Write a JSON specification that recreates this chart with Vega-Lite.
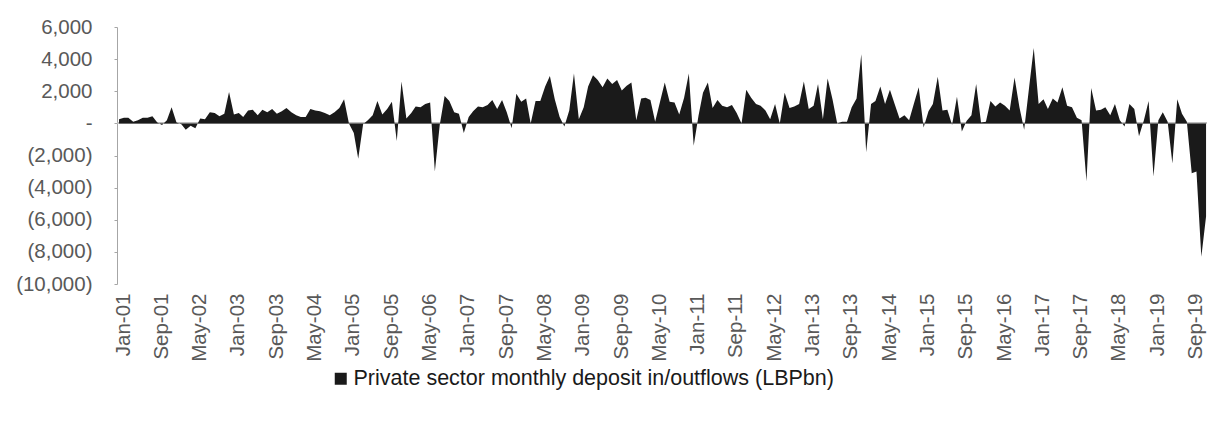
{
  "$schema": "https://vega.github.io/schema/vega-lite/v6.json",
  "width": 1090,
  "height": 257,
  "autosize": "none",
  "padding": {"left": 117, "top": 27, "right": 0, "bottom": 141},
  "background": "white",
  "config": {"view": {"stroke": null}, "font": "Liberation Sans", "axis": {"labelOverlap": false}, "axisY": {"labelOverlap": false}},
  "data": {"values": [
    {"m":"2001-01-01","v":250},{"m":"2001-02-01","v":350},{"m":"2001-03-01","v":350},{"m":"2001-04-01","v":100},{"m":"2001-05-01","v":200},{"m":"2001-06-01","v":350},{"m":"2001-07-01","v":350},{"m":"2001-08-01","v":450},{"m":"2001-09-01","v":50},{"m":"2001-10-01","v":-100},{"m":"2001-11-01","v":200},{"m":"2001-12-01","v":1000},
    {"m":"2002-01-01","v":50},{"m":"2002-02-01","v":-50},{"m":"2002-03-01","v":-400},{"m":"2002-04-01","v":-150},{"m":"2002-05-01","v":-300},{"m":"2002-06-01","v":300},{"m":"2002-07-01","v":250},{"m":"2002-08-01","v":700},{"m":"2002-09-01","v":650},{"m":"2002-10-01","v":450},{"m":"2002-11-01","v":600},{"m":"2002-12-01","v":1950},
    {"m":"2003-01-01","v":550},{"m":"2003-02-01","v":650},{"m":"2003-03-01","v":400},{"m":"2003-04-01","v":800},{"m":"2003-05-01","v":850},{"m":"2003-06-01","v":500},{"m":"2003-07-01","v":850},{"m":"2003-08-01","v":700},{"m":"2003-09-01","v":900},{"m":"2003-10-01","v":600},{"m":"2003-11-01","v":750},{"m":"2003-12-01","v":950},
    {"m":"2004-01-01","v":700},{"m":"2004-02-01","v":500},{"m":"2004-03-01","v":400},{"m":"2004-04-01","v":400},{"m":"2004-05-01","v":900},{"m":"2004-06-01","v":800},{"m":"2004-07-01","v":750},{"m":"2004-08-01","v":650},{"m":"2004-09-01","v":500},{"m":"2004-10-01","v":700},{"m":"2004-11-01","v":950},{"m":"2004-12-01","v":1500},
    {"m":"2005-01-01","v":0},{"m":"2005-02-01","v":-600},{"m":"2005-03-01","v":-2200},{"m":"2005-04-01","v":-50},{"m":"2005-05-01","v":200},{"m":"2005-06-01","v":500},{"m":"2005-07-01","v":1400},{"m":"2005-08-01","v":550},{"m":"2005-09-01","v":900},{"m":"2005-10-01","v":1350},{"m":"2005-11-01","v":-1100},{"m":"2005-12-01","v":2600},
    {"m":"2006-01-01","v":300},{"m":"2006-02-01","v":650},{"m":"2006-03-01","v":1050},{"m":"2006-04-01","v":1000},{"m":"2006-05-01","v":1200},{"m":"2006-06-01","v":1300},{"m":"2006-07-01","v":-3000},{"m":"2006-08-01","v":-100},{"m":"2006-09-01","v":1700},{"m":"2006-10-01","v":1400},{"m":"2006-11-01","v":700},{"m":"2006-12-01","v":600},
    {"m":"2007-01-01","v":-600},{"m":"2007-02-01","v":400},{"m":"2007-03-01","v":750},{"m":"2007-04-01","v":1050},{"m":"2007-05-01","v":1000},{"m":"2007-06-01","v":1150},{"m":"2007-07-01","v":1450},{"m":"2007-08-01","v":900},{"m":"2007-09-01","v":1450},{"m":"2007-10-01","v":700},{"m":"2007-11-01","v":-300},{"m":"2007-12-01","v":1850},
    {"m":"2008-01-01","v":1350},{"m":"2008-02-01","v":1550},{"m":"2008-03-01","v":0},{"m":"2008-04-01","v":1400},{"m":"2008-05-01","v":1400},{"m":"2008-06-01","v":2300},{"m":"2008-07-01","v":2950},{"m":"2008-08-01","v":1500},{"m":"2008-09-01","v":400},{"m":"2008-10-01","v":-200},{"m":"2008-11-01","v":800},{"m":"2008-12-01","v":3100},
    {"m":"2009-01-01","v":250},{"m":"2009-02-01","v":1000},{"m":"2009-03-01","v":2300},{"m":"2009-04-01","v":3000},{"m":"2009-05-01","v":2700},{"m":"2009-06-01","v":2250},{"m":"2009-07-01","v":2800},{"m":"2009-08-01","v":2450},{"m":"2009-09-01","v":2700},{"m":"2009-10-01","v":2050},{"m":"2009-11-01","v":2350},{"m":"2009-12-01","v":2550},
    {"m":"2010-01-01","v":200},{"m":"2010-02-01","v":1550},{"m":"2010-03-01","v":1600},{"m":"2010-04-01","v":1450},{"m":"2010-05-01","v":100},{"m":"2010-06-01","v":1350},{"m":"2010-07-01","v":2550},{"m":"2010-08-01","v":1350},{"m":"2010-09-01","v":1300},{"m":"2010-10-01","v":550},{"m":"2010-11-01","v":1600},{"m":"2010-12-01","v":3100},
    {"m":"2011-01-01","v":-1400},{"m":"2011-02-01","v":500},{"m":"2011-03-01","v":1900},{"m":"2011-04-01","v":2550},{"m":"2011-05-01","v":950},{"m":"2011-06-01","v":1450},{"m":"2011-07-01","v":1100},{"m":"2011-08-01","v":1000},{"m":"2011-09-01","v":1150},{"m":"2011-10-01","v":650},{"m":"2011-11-01","v":0},{"m":"2011-12-01","v":2100},
    {"m":"2012-01-01","v":1600},{"m":"2012-02-01","v":1200},{"m":"2012-03-01","v":1100},{"m":"2012-04-01","v":800},{"m":"2012-05-01","v":250},{"m":"2012-06-01","v":1200},{"m":"2012-07-01","v":0},{"m":"2012-08-01","v":1900},{"m":"2012-09-01","v":950},{"m":"2012-10-01","v":1050},{"m":"2012-11-01","v":1200},{"m":"2012-12-01","v":2600},
    {"m":"2013-01-01","v":900},{"m":"2013-02-01","v":1100},{"m":"2013-03-01","v":2450},{"m":"2013-04-01","v":250},{"m":"2013-05-01","v":2800},{"m":"2013-06-01","v":1500},{"m":"2013-07-01","v":0},{"m":"2013-08-01","v":100},{"m":"2013-09-01","v":100},{"m":"2013-10-01","v":1000},{"m":"2013-11-01","v":1550},{"m":"2013-12-01","v":4300},
    {"m":"2014-01-01","v":-1800},{"m":"2014-02-01","v":1200},{"m":"2014-03-01","v":1400},{"m":"2014-04-01","v":2300},{"m":"2014-05-01","v":1200},{"m":"2014-06-01","v":2100},{"m":"2014-07-01","v":1200},{"m":"2014-08-01","v":300},{"m":"2014-09-01","v":500},{"m":"2014-10-01","v":200},{"m":"2014-11-01","v":1250},{"m":"2014-12-01","v":2250},
    {"m":"2015-01-01","v":-250},{"m":"2015-02-01","v":750},{"m":"2015-03-01","v":1200},{"m":"2015-04-01","v":2900},{"m":"2015-05-01","v":800},{"m":"2015-06-01","v":850},{"m":"2015-07-01","v":-100},{"m":"2015-08-01","v":1650},{"m":"2015-09-01","v":-500},{"m":"2015-10-01","v":150},{"m":"2015-11-01","v":500},{"m":"2015-12-01","v":2450},
    {"m":"2016-01-01","v":50},{"m":"2016-02-01","v":100},{"m":"2016-03-01","v":1400},{"m":"2016-04-01","v":1050},{"m":"2016-05-01","v":1300},{"m":"2016-06-01","v":1100},{"m":"2016-07-01","v":800},{"m":"2016-08-01","v":2850},{"m":"2016-09-01","v":1000},{"m":"2016-10-01","v":-400},{"m":"2016-11-01","v":2200},{"m":"2016-12-01","v":4700},
    {"m":"2017-01-01","v":1200},{"m":"2017-02-01","v":1500},{"m":"2017-03-01","v":900},{"m":"2017-04-01","v":1550},{"m":"2017-05-01","v":1300},{"m":"2017-06-01","v":2250},{"m":"2017-07-01","v":1100},{"m":"2017-08-01","v":1000},{"m":"2017-09-01","v":350},{"m":"2017-10-01","v":200},{"m":"2017-11-01","v":-3600},{"m":"2017-12-01","v":2200},
    {"m":"2018-01-01","v":800},{"m":"2018-02-01","v":850},{"m":"2018-03-01","v":1000},{"m":"2018-04-01","v":500},{"m":"2018-05-01","v":1200},{"m":"2018-06-01","v":200},{"m":"2018-07-01","v":-200},{"m":"2018-08-01","v":1200},{"m":"2018-09-01","v":900},{"m":"2018-10-01","v":-800},{"m":"2018-11-01","v":200},{"m":"2018-12-01","v":1400},
    {"m":"2019-01-01","v":-3300},{"m":"2019-02-01","v":200},{"m":"2019-03-01","v":700},{"m":"2019-04-01","v":100},{"m":"2019-05-01","v":-2500},{"m":"2019-06-01","v":1500},{"m":"2019-07-01","v":600},{"m":"2019-08-01","v":100},{"m":"2019-09-01","v":-3100},{"m":"2019-10-01","v":-3000},{"m":"2019-11-01","v":-8300},{"m":"2019-12-01","v":-5800}
  ]},
  "layer": [
    {
      "mark": {"type": "rule", "color": "#bfbfbf", "strokeWidth": 1},
      "encoding": {
        "y": {
          "datum": 0, "type": "quantitative",
          "scale": {"domain": [-10000, 6000], "nice": false},
          "axis": {
            "title": null, "grid": false,
            "values": [-10000, -8000, -6000, -4000, -2000, 0, 2000, 4000, 6000],
            "labelExpr": "datum.value > 0 ? format(datum.value, ',') : (datum.value < 0 ? '(' + format(-datum.value, ',') + ')' : '-')",
            "domainColor": "#a6a6a6", "tickColor": "#a6a6a6", "tickSize": 3,
            "labelPadding": 22, "labelFontSize": 20.5, "labelColor": "#595959",
            "labelFont": "Liberation Sans", "labelOverlap": false, "labelFlush": false, "labelBound": false
          }
        }
      }
    },
    {
      "mark": {"type": "area", "interpolate": "linear"},
      "encoding": {
        "x": {
          "field": "m", "type": "temporal",
          "scale": {"type": "utc", "domain": [{"year": 2000, "month": 12, "date": 19, "utc": true}, {"year": 2019, "month": 12, "date": 7, "utc": true}]},
          "axis": {
            "title": null, "grid": false, "domain": false, "ticks": false,
            "values": [
              {"year":2001,"month":1,"date":1,"utc":true},{"year":2001,"month":9,"date":1,"utc":true},{"year":2002,"month":5,"date":1,"utc":true},
              {"year":2003,"month":1,"date":1,"utc":true},{"year":2003,"month":9,"date":1,"utc":true},{"year":2004,"month":5,"date":1,"utc":true},
              {"year":2005,"month":1,"date":1,"utc":true},{"year":2005,"month":9,"date":1,"utc":true},{"year":2006,"month":5,"date":1,"utc":true},
              {"year":2007,"month":1,"date":1,"utc":true},{"year":2007,"month":9,"date":1,"utc":true},{"year":2008,"month":5,"date":1,"utc":true},
              {"year":2009,"month":1,"date":1,"utc":true},{"year":2009,"month":9,"date":1,"utc":true},{"year":2010,"month":5,"date":1,"utc":true},
              {"year":2011,"month":1,"date":1,"utc":true},{"year":2011,"month":9,"date":1,"utc":true},{"year":2012,"month":5,"date":1,"utc":true},
              {"year":2013,"month":1,"date":1,"utc":true},{"year":2013,"month":9,"date":1,"utc":true},{"year":2014,"month":5,"date":1,"utc":true},
              {"year":2015,"month":1,"date":1,"utc":true},{"year":2015,"month":9,"date":1,"utc":true},{"year":2016,"month":5,"date":1,"utc":true},
              {"year":2017,"month":1,"date":1,"utc":true},{"year":2017,"month":9,"date":1,"utc":true},{"year":2018,"month":5,"date":1,"utc":true},
              {"year":2019,"month":1,"date":1,"utc":true},{"year":2019,"month":9,"date":1,"utc":true}
            ],
            "labelExpr": "utcFormat(datum.value, '%b-%y')",
            "labelAngle": 270, "labelFontSize": 20.5, "labelColor": "#595959",
            "labelFont": "Liberation Sans", "labelPadding": 9, "labelOffset": 4,
            "labelOverlap": false, "labelFlush": false, "labelBound": false
          }
        },
        "y": {
          "field": "v", "type": "quantitative",
          "scale": {"domain": [-10000, 6000], "nice": false},
          "axis": {
            "title": null, "grid": false,
            "values": [-10000, -8000, -6000, -4000, -2000, 0, 2000, 4000, 6000],
            "labelExpr": "datum.value > 0 ? format(datum.value, ',') : (datum.value < 0 ? '(' + format(-datum.value, ',') + ')' : '-')",
            "domainColor": "#a6a6a6", "tickColor": "#a6a6a6", "tickSize": 3,
            "labelPadding": 22, "labelFontSize": 20.5, "labelColor": "#595959",
            "labelFont": "Liberation Sans", "labelOverlap": false, "labelFlush": false, "labelBound": false
          }
        },
        "color": {
          "datum": "Private sector monthly deposit in/outflows (LBPbn)",
          "scale": {"range": ["#1a1a1a"]},
          "legend": {
            "orient": "none", "legendX": 213, "legendY": 341, "title": null,
            "symbolType": "square", "symbolSize": 144, "symbolStrokeWidth": 0,
            "labelFontSize": 21.5, "labelColor": "#1a1a1a", "labelFont": "Liberation Sans",
            "labelOffset": 2, "labelLimit": 800
          }
        }
      }
    }
  ]
}
